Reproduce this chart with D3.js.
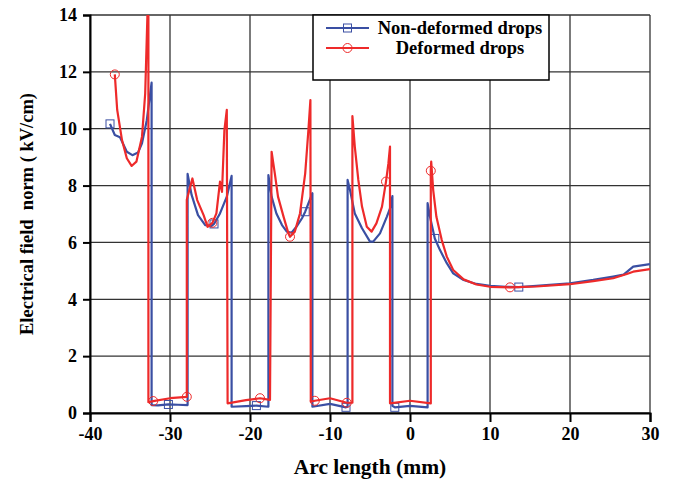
<!DOCTYPE html>
<html>
<head>
<meta charset="UTF-8">
<script src="https://cdn.jsdelivr.net/npm/d3@7"></script>
<style>
	body { margin: 0; background: #fff; }
	svg { font-family: 'Liberation Serif', 'DejaVu Serif', serif; font-weight: bold; }
</style>
</head>
<body>
<div id="chart"></div>
<script>
// Non-deformed drops (blue, squares)
const nonDefX = [-37.5, -36.9, -36.25, -36.0, -35.4, -34.7, -34.0, -33.5, -32.9, -32.3,
	-32.3, -31.5, -30.2, -29.0, -27.8,
	-27.8, -27.3, -26.5, -25.6, -24.8, -24.5, -23.75, -22.9, -22.3,
	-22.3, -20.5, -19.2, -17.7,
	-17.7, -17.3, -16.7, -16.0, -15.4, -14.8, -14.2, -13.5, -13.1, -12.7, -12.2,
	-12.2, -10.0, -8.0, -7.8,
	-7.8, -7.5, -6.9, -6.0, -5.0, -4.6, -3.75, -2.9, -2.5, -2.2,
	-2.2, -1.9, 0.0, 2.2,
	2.2, 2.5, 3.1, 3.75, 4.6, 5.4, 6.7, 8.3, 10, 12, 13.6, 15.8, 20, 22.9, 25.4, 26.7, 27.9, 30];
const nonDefY = [10.17, 9.78, 9.7, 9.55, 9.19, 9.07, 9.16, 9.49, 10.3, 11.62,
	0.28, 0.27, 0.3, 0.29, 0.28,
	8.41, 7.67, 6.96, 6.61, 6.58, 6.65, 7.02, 7.61, 8.34,
	0.22, 0.24, 0.26, 0.22,
	8.37, 7.61, 7.02, 6.61, 6.38, 6.34, 6.55, 6.85, 7.08, 7.37, 7.73,
	0.22, 0.32, 0.2, 0.22,
	8.2, 7.84, 7.02, 6.5, 6.03, 6.03, 6.32, 6.9, 7.2, 7.63,
	0.25, 0.2, 0.25, 0.2,
	7.38, 6.9, 6.14, 5.73, 5.27, 4.91, 4.68, 4.54, 4.47, 4.44, 4.43, 4.47, 4.56, 4.68, 4.8, 4.87, 5.15, 5.24];
const nonDefMarks = [0, 12, 20, 26, 36, 41, 54, 59, 67];

// Deformed drops (red, circles)
const defX = [-36.9, -36.6, -36.0, -35.4, -34.8, -34.2, -33.5, -33.1, -32.8, -32.7,
	-32.7, -32.1, -30.0, -27.9,
	-27.9, -27.2, -26.6, -25.8, -25.3, -24.7, -24.2, -23.75, -23.5, -23.2, -22.9,
	-22.8, -20.5, -18.75, -17.5,
	-17.5, -17.3, -16.9, -16.5, -15.8, -15.2, -15.0, -14.4, -13.75, -13.1, -12.7, -12.45,
	-12.4, -11.9, -10.0, -7.9, -7.2,
	-7.2, -6.9, -6.46, -6.0, -5.4, -4.8, -4.2, -3.5, -3.0, -2.7, -2.5,
	-2.5, 0.0, 2.6,
	2.6, 2.65, 2.9, 3.3, 3.96, 4.6, 5.4, 6.7, 8.3, 10, 12.5, 15.8, 20, 22.9, 25.4, 27.1, 27.9, 30];
const defY = [11.91, 10.66, 9.6, 8.96, 8.69, 8.84, 9.72, 11.24, 14.2, 14.2,
	0.38, 0.42, 0.52, 0.57,
	7.5, 8.25, 7.49, 6.96, 6.55, 6.69, 7.02, 8.14, 7.78, 9.95, 10.66,
	0.34, 0.45, 0.52, 0.46,
	0.46, 9.19, 8.43, 7.61, 6.9, 6.32, 6.2, 6.38, 7.02, 8.43, 9.95, 11.01,
	0.4, 0.43, 0.52, 0.36, 0.36,
	10.44, 9.37, 8.2, 7.26, 6.55, 6.38, 6.67, 7.26, 8.14, 8.78, 9.37,
	0.34, 0.43, 0.34,
	8.52, 8.84, 7.84, 6.9, 6.09, 5.5, 5.03, 4.7, 4.52, 4.44, 4.42, 4.45, 4.53, 4.64, 4.74, 4.89, 4.97, 5.06];
const defMarks = [0, 11, 13, 19, 27, 35, 42, 44, 54, 60, 70];

const xTicks = [-40, -30, -20, -10, 0, 10, 20, 30];
const yTicks = [0, 2, 4, 6, 8, 10, 12, 14];

const width = 673, height = 479;
const margin = { left: 90, right: 23, top: 15, bottom: 66 };

const blue = '#3a4fa3';
const red = '#ee2a2a';

const svg = d3.select('#chart').append('svg')
	.attr('width', width)
	.attr('height', height);

const x = d3.scaleLinear([-40, 30], [margin.left, width - margin.right]);
const y = d3.scaleLinear([0, 14], [height - margin.bottom, margin.top]);

// grid
svg.append('g')
	.selectAll('line')
	.data(xTicks)
	.enter().append('line')
	.attr('x1', (d) => x(d)).attr('x2', (d) => x(d))
	.attr('y1', y(0)).attr('y2', y(14))
	.attr('stroke', '#333')
	.attr('stroke-width', 1.3);
svg.append('g')
	.selectAll('line')
	.data(yTicks)
	.enter().append('line')
	.attr('x1', x(-40)).attr('x2', x(30))
	.attr('y1', (d) => y(d)).attr('y2', (d) => y(d))
	.attr('stroke', '#333')
	.attr('stroke-width', 1.3);

// axes
const xAxis = svg.append('g')
	.attr('transform', 'translate(0,' + y(0) + ')')
	.call(d3.axisBottom(x).tickValues(xTicks).tickFormat((d) => String(d)).tickSize(9).tickPadding(5));
const yAxis = svg.append('g')
	.attr('transform', 'translate(' + x(-40) + ',0)')
	.call(d3.axisLeft(y).tickValues(yTicks).tickFormat((d) => String(d)).tickSize(7).tickPadding(6));
[xAxis, yAxis].forEach((g) => {
	g.attr('font-family', null).attr('font-size', null);
	g.select('.domain').attr('stroke', '#000').attr('stroke-width', 2);
	g.selectAll('.tick line').attr('stroke', '#000').attr('stroke-width', 2);
	g.selectAll('.tick text')
		.attr('fill', '#000')
		.style('font-size', '18px');
});

svg.append('clipPath').attr('id', 'plot-clip')
	.append('rect')
	.attr('x', x(-40)).attr('y', y(14))
	.attr('width', x(30) - x(-40)).attr('height', y(0) - y(14));

const line = d3.line()
	.x((d) => x(d[0]))
	.y((d) => y(d[1]));

function series(xs, ys, marks, color, shape) {
	const pts = xs.map((v, i) => [v, ys[i]]);
	const g = svg.append('g').attr('clip-path', 'url(#plot-clip)');
	g.append('path')
		.datum(pts)
		.attr('fill', 'none')
		.attr('stroke', color)
		.attr('stroke-width', 2.2)
		.attr('stroke-linejoin', 'round')
		.attr('d', line);
	const m = marks.map((i) => pts[i]);
	if (shape === 'square') {
		g.selectAll('.mk')
			.data(m)
			.enter().append('rect')
			.attr('x', (d) => x(d[0]) - 4)
			.attr('y', (d) => y(d[1]) - 4)
			.attr('width', 8).attr('height', 8)
			.attr('fill', 'none')
			.attr('stroke', color)
			.attr('stroke-width', 1);
	} else {
		g.selectAll('.mk')
			.data(m)
			.enter().append('circle')
			.attr('cx', (d) => x(d[0]))
			.attr('cy', (d) => y(d[1]))
			.attr('r', 4.5)
			.attr('fill', 'none')
			.attr('stroke', color)
			.attr('stroke-width', 1);
	}
}

series(nonDefX, nonDefY, nonDefMarks, blue, 'square');
series(defX, defY, defMarks, red, 'circle');

// legend
const legend = svg.append('g');
legend.append('rect')
	.attr('x', 313).attr('y', 15)
	.attr('width', 236).attr('height', 65)
	.attr('fill', '#fff')
	.attr('stroke', '#000')
	.attr('stroke-width', 1.5);
const legendItems = [
	{ label: 'Non-deformed drops', color: blue, shape: 'square' },
	{ label: 'Deformed drops', color: red, shape: 'circle' }
];
legendItems.forEach((it, i) => {
	const ly = 28 + i * 20;
	legend.append('line')
		.attr('x1', 326).attr('x2', 369)
		.attr('y1', ly).attr('y2', ly)
		.attr('stroke', it.color)
		.attr('stroke-width', 2.2);
	if (it.shape === 'square') {
		legend.append('rect')
			.attr('x', 343.5).attr('y', ly - 4)
			.attr('width', 8).attr('height', 8)
			.attr('fill', 'none').attr('stroke', it.color).attr('stroke-width', 1);
	} else {
		legend.append('circle')
			.attr('cx', 347.5).attr('cy', ly).attr('r', 4.5)
			.attr('fill', 'none').attr('stroke', it.color).attr('stroke-width', 1);
	}
	legend.append('text')
		.attr('x', 460).attr('y', ly + 6)
		.attr('text-anchor', 'middle')
		.style('font-size', '18.5px')
		.text(it.label);
});

// axis titles
svg.append('text')
	.attr('x', (x(-40) + x(30)) / 2)
	.attr('y', 474)
	.attr('text-anchor', 'middle')
	.style('font-size', '21.5px')
	.text('Arc length (mm)');
svg.append('text')
	.attr('transform', 'translate(33,' + (y(0) + y(14)) / 2 + ') rotate(-90)')
	.attr('text-anchor', 'middle')
	.style('font-size', '18.5px')
	.style('white-space', 'pre')
	.text('Electrical field  norm ( kV/cm)');
</script>
</body>
</html>
